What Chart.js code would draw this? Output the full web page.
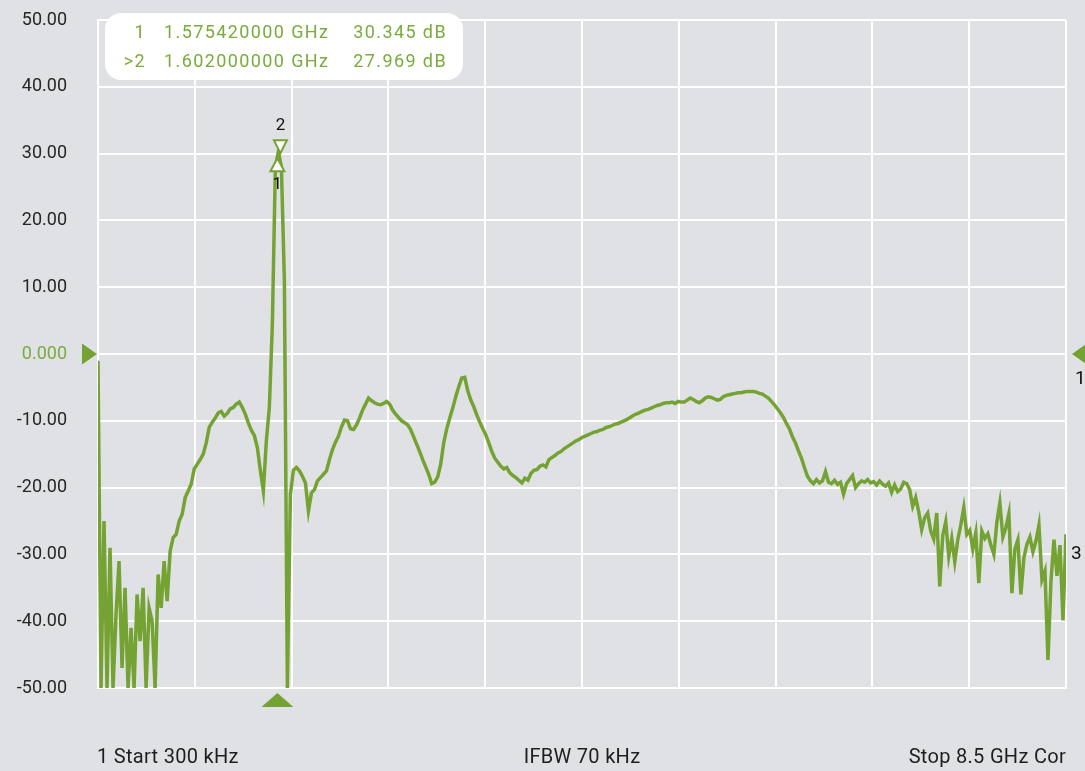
<!DOCTYPE html>
<html>
<head>
<meta charset="utf-8">
<title>S21 trace</title>
<script src="https://cdn.jsdelivr.net/npm/chart.js@4.4.1/dist/chart.umd.min.js"></script>
<style>
  html, body { margin: 0; padding: 0; background: #e0e1e5; }
  canvas { display: block; }
</style>
</head>
<body>
<canvas id="vnaChart" width="1085" height="771"></canvas>
<script>
// sweep settings
var sweepStartGHz = 0.0003;
var sweepStopGHz = 8.5;
var refLevels = [50, 40, 30, 20, 10, 0, -10, -20, -30, -40, -50];

// trace 1, dB, one value per sweep point
var traceDB = [
  -1, -50, -25, -50, -29, -50, -39, -31, -47, -35,
  -50, -41, -50, -36, -43, -35, -50, -38, -40, -50,
  -33, -38, -31, -37, -29.5, -27.5, -27, -25, -24, -21.5,
  -20.5, -19.5, -17.2, -16.5, -15.8, -15, -13.3, -11, -10.2, -9.6,
  -8.8, -8.6, -9.3, -8.9, -8.2, -8.0, -7.5, -7.2, -8.0, -9.0,
  -10.3, -11.4, -12.2, -14, -17.4, -20.5, -13, -8, 4.5, 28,
  30.3, 28, 11, -50, -21, -17.4, -17, -17.5, -18.3, -19.3,
  -23.5, -20.8, -20.3, -19, -18.5, -18, -17.5, -15.8, -14.3, -13.2,
  -12.3, -10.9, -9.9, -10, -11.2, -11.3, -10.6, -9.6, -8.4, -7.5,
  -6.6, -7.0, -7.3, -7.5, -7.6, -7.4, -7.1, -7.5, -8.4, -9.0,
  -9.5, -10.0, -10.3, -10.6, -11.3, -12.4, -13.5, -14.6, -15.8, -16.9,
  -18, -19.4, -19.2, -18.4, -16.5, -13.3, -11.2, -9.6, -8.1, -6.4,
  -4.9, -3.6, -3.5, -5.5, -6.9, -7.9, -9.1, -10.2, -11.2, -12.1,
  -13.3, -14.6, -15.6, -16.2, -16.8, -17.2, -17.0, -17.8, -18.2, -18.5,
  -18.9, -19.3, -18.6, -18.9, -17.9, -17.4, -17.3, -16.8, -16.6, -16.9,
  -15.8, -15.5, -15.2, -14.8, -14.6, -14.2, -13.9, -13.6, -13.3, -13.0,
  -12.8, -12.5, -12.3, -12.1, -11.9, -11.7, -11.6, -11.4, -11.3, -11.0,
  -10.9, -10.7, -10.5, -10.4, -10.2, -10.0, -9.8, -9.5, -9.2, -9.0,
  -8.8, -8.6, -8.4, -8.3, -8.1, -7.9, -7.7, -7.6, -7.4, -7.3,
  -7.3, -7.2, -7.4, -7.1, -7.2, -7.2, -6.9, -6.6, -6.8, -7.1,
  -7.3, -7.0, -6.6, -6.4, -6.5, -6.7, -6.9, -6.8, -6.4, -6.2,
  -6.1, -6.0, -5.9, -5.8, -5.8, -5.7, -5.6, -5.6, -5.6, -5.7,
  -5.9, -6.0, -6.3, -6.6, -7.1, -7.6, -8.2, -8.8, -9.5, -10.4,
  -11.2, -12.4, -13.3, -14.5, -15.6, -17.0, -18.3, -19.0, -19.4, -18.8,
  -19.3, -19.0, -17.6, -19.2, -19.4, -18.9, -19.5, -19.2, -21.0, -19.4,
  -18.8, -18.2, -20.0, -19.4, -19.0, -19.2, -18.8, -19.3, -19.1, -19.6,
  -19.0, -19.5, -19.8, -19.3, -20.7, -19.6, -20.6, -20.2, -19.2, -19.4,
  -20.3, -22.8, -21.5, -23.6, -26.3, -24.5, -23.8, -26.5, -27.7, -23.8,
  -34.8, -27.2, -25.1, -30.3, -27.6, -31.1, -27.8, -25.6, -23.0, -27.0,
  -26.4, -29.2, -26.8, -34.3, -26.5, -27.6, -26.9, -28.6, -30.0, -25.2,
  -22.3, -27.4, -26.0, -23.9, -35.8, -29.2, -27.8, -36.0, -30.5, -28.5,
  -27.4, -29.6, -28.0, -25.6, -33.8, -32.5, -45.8, -34.0, -27.8, -33.2,
  -28.6, -39.9, -27.0
];

// markers
var markerIds = ['1', '2'];
var markerFreqGHz = [1.57542, 1.602];
var markerDB = [30.345, 27.969];
var activeMarker = 1;

var refValueDB = 0;      // reference position arrows
var trace3LevelDB = -30; // "3" tag on the right edge
var footerTexts = ['1 Start 300 kHz', 'IFBW 70 kHz', 'Stop 8.5 GHz Cor'];

var traceGreen = '#74a333';
var textGreen = '#7aab3c';
var labelFont = 'Roboto, "Liberation Sans", sans-serif';

var sweepStep = (sweepStopGHz - sweepStartGHz) / (traceDB.length - 1);
var tracePoints = traceDB.map(function(v, i) {
    return { x: sweepStartGHz + i * sweepStep, y: v };
});

function tri(ctx, pts, fill, stroke) {
    ctx.beginPath();
    ctx.moveTo(pts[0][0], pts[0][1]);
    ctx.lineTo(pts[1][0], pts[1][1]);
    ctx.lineTo(pts[2][0], pts[2][1]);
    ctx.closePath();
    ctx.fillStyle = fill;
    ctx.fill();
    if (stroke) {
        ctx.strokeStyle = stroke;
        ctx.lineWidth = 2;
        ctx.stroke();
    }
}

var overlay = {
    id: 'overlay',
    afterDraw: function(chart) {
        var ctx = chart.ctx;
        var area = chart.chartArea;
        var xs = chart.scales.x;
        var ys = chart.scales.y;
        ctx.save();

        // marker readout box
        ctx.fillStyle = '#ffffff';
        ctx.beginPath();
        ctx.roundRect(105, 13, 358, 67, 16);
        ctx.fill();
        ctx.font = '18px ' + labelFont;
        ctx.letterSpacing = '1.4px';
        ctx.fillStyle = textGreen;
        ctx.textBaseline = 'alphabetic';
        for (var i = 0; i < markerIds.length; i++) {
            var by = 38 + i * 29;
            ctx.textAlign = 'right';
            ctx.fillText((i === activeMarker ? '>' : '') + markerIds[i], 146, by);
            ctx.textAlign = 'left';
            ctx.fillText(markerFreqGHz[i].toFixed(9) + ' GHz', 164, by);
            ctx.textAlign = 'right';
            ctx.fillText(markerDB[i].toFixed(3) + ' dB', 447, by);
        }
        ctx.letterSpacing = '0px';

        // marker symbols on the trace
        var m1x = xs.getPixelForValue(markerFreqGHz[0]);
        var m1y = ys.getPixelForValue(markerDB[0]);
        var m2x = xs.getPixelForValue(markerFreqGHz[1]);
        var m2y = ys.getPixelForValue(markerDB[1]);
        tri(ctx, [[m1x, m1y + 7], [m1x - 7, m1y + 20], [m1x + 7, m1y + 20]], '#ffffff', traceGreen);
        tri(ctx, [[m2x, m2y - 14], [m2x - 6.5, m2y - 27], [m2x + 6.5, m2y - 27]], '#ffffff', traceGreen);
        ctx.fillStyle = '#111111';
        ctx.font = '17px ' + labelFont;
        ctx.textAlign = 'center';
        ctx.textBaseline = 'middle';
        ctx.fillText(markerIds[0], m1x, m1y + 33);
        ctx.fillText(markerIds[1], m2x, m2y - 41);

        // reference arrows
        var ry = ys.getPixelForValue(refValueDB);
        tri(ctx, [[area.left - 1, ry], [area.left - 16, ry - 10.5], [area.left - 16, ry + 10.5]], traceGreen);
        tri(ctx, [[area.right + 6, ry], [area.right + 20, ry - 10], [area.right + 20, ry + 10]], traceGreen);
        tri(ctx, [[m1x, area.bottom + 5], [m1x - 16, area.bottom + 19], [m1x + 16, area.bottom + 19]], traceGreen);

        ctx.fillStyle = '#111111';
        ctx.font = '19px ' + labelFont;
        ctx.textAlign = 'left';
        ctx.fillText('1', area.right + 9, ry + 25);
        ctx.fillText('3', area.right + 5, ys.getPixelForValue(trace3LevelDB));

        // footer line
        ctx.fillStyle = '#1e1e1e';
        ctx.font = '20px ' + labelFont;
        ctx.letterSpacing = '0.3px';
        ctx.textBaseline = 'alphabetic';
        ctx.textAlign = 'left';
        ctx.fillText(footerTexts[0], area.left - 1, 763);
        ctx.textAlign = 'center';
        ctx.fillText(footerTexts[1], (area.left + area.right) / 2, 763);
        ctx.textAlign = 'right';
        ctx.fillText(footerTexts[2], area.right, 763);
        ctx.restore();
    }
};

var ctx1 = document.getElementById('vnaChart').getContext('2d');

var chart = new Chart(ctx1, {
    type: 'line',
    data: {
        datasets: [{
            data: tracePoints,
            borderColor: traceGreen,
            borderWidth: 3.5,
            pointRadius: 0,
            tension: 0
        }]
    },
    options: {
        responsive: false,
        animation: false,
        devicePixelRatio: 1,
        layout: {
            padding: { top: 20, right: 19, bottom: 83, left: 0 }
        },
        scales: {
            x: {
                type: 'linear',
                min: sweepStartGHz,
                max: sweepStopGHz,
                afterBuildTicks: function(scale) {
                    var ticks = [];
                    for (var k = 0; k <= 10; k++) {
                        ticks.push({ value: sweepStartGHz + k * (sweepStopGHz - sweepStartGHz) / 10 });
                    }
                    scale.ticks = ticks;
                },
                afterFit: function(scale) { scale.height = 0; },
                ticks: { display: false },
                grid: { color: '#ffffff', lineWidth: 2, drawTicks: false },
                border: { color: '#ffffff', width: 2 }
            },
            y: {
                min: -50,
                max: 50,
                afterBuildTicks: function(scale) {
                    scale.ticks = refLevels.map(function(v) { return { value: v }; });
                },
                afterFit: function(scale) {
                    // fixed label column; tick padding must not push the plot down
                    scale.width = 98;
                    scale.paddingTop = 0;
                    scale.paddingBottom = 0;
                },
                ticks: {
                    padding: 31,
                    font: { family: labelFont, size: 18 },
                    color: function(c) { return c.tick.value === 0 ? textGreen : '#262626'; },
                    callback: function(v) { return v === 0 ? '0.000' : v.toFixed(2); }
                },
                grid: { color: '#ffffff', lineWidth: 2, drawTicks: false },
                border: { color: '#ffffff', width: 2 }
            }
        },
        plugins: {
            legend: { display: false },
            tooltip: { enabled: false }
        }
    },
    plugins: [overlay]
});
</script>
</body>
</html>
